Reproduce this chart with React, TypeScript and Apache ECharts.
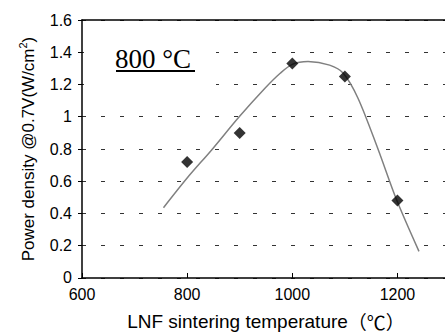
import React, { useEffect, useRef } from "react";
import * as echarts from "echarts";

// measured points (sintering temperature °C, power density W/cm2)
const temps = [800, 900, 1000, 1100, 1200];
const power = [0.72, 0.9, 1.33, 1.25, 0.48];

// trend curve
const curveTemps = [755, 800, 847, 899, 948, 977, 1000, 1030, 1071, 1097, 1125, 1163, 1198, 1241];
const curveValues = [0.436, 0.62, 0.796, 1.0, 1.177, 1.27, 1.325, 1.342, 1.32, 1.27, 1.115, 0.8, 0.488, 0.165];

const xTitle = "LNF sintering temperature";
const yTitle = "Power density @0.7V(W/cm";
const annotation = "800 °C";

export default function App() {
  const ref = useRef<HTMLDivElement>(null);
  useEffect(() => {
    if (!ref.current) return;
    const chart = echarts.init(ref.current, null, { renderer: "svg" });
    const sans = "'Liberation Sans', Arial, sans-serif";
    chart.setOption({
      animation: false,
      backgroundColor: "#ffffff",
      grid: { left: 82, top: 20, right: 5, bottom: 57, containLabel: false },
      xAxis: [
        {
          type: "value",
          min: 600,
          max: 1300,
          interval: 200,
          position: "bottom",
          axisLine: { show: true, lineStyle: { color: "#000", width: 1.5 } },
          axisTick: { show: true, inside: true, length: 5, lineStyle: { color: "#000", width: 1 } },
          axisLabel: {
            show: true,
            showMaxLabel: false,
            color: "#000",
            fontSize: 16,
            fontFamily: sans,
            margin: 9,
            formatter: (v: number) => String(v),
          },
          splitLine: { show: false },
          name: "{a|" + xTitle + "}{b|（℃）}",
          nameLocation: "middle",
          nameGap: 34,
          nameTextStyle: {
            rich: {
              a: { fontSize: 19, fontFamily: sans, color: "#000" },
              b: { fontSize: 19, fontFamily: "'Noto Sans CJK JP', sans-serif", color: "#000" },
            },
          },
        },
        {
          type: "value",
          min: 600,
          max: 1300,
          position: "top",
          axisLine: { show: true, lineStyle: { color: "#000", width: 1.5 } },
          axisTick: { show: false },
          axisLabel: { show: false },
          splitLine: { show: false },
        },
      ],
      yAxis: {
        type: "value",
        min: 0,
        max: 1.6,
        interval: 0.2,
        axisLine: { show: true, lineStyle: { color: "#000", width: 1.5 } },
        axisTick: { show: true, inside: false, length: 4, lineStyle: { color: "#000", width: 1 } },
        axisLabel: { color: "#000", fontSize: 16, fontFamily: sans, margin: 10 },
        splitLine: { show: true, lineStyle: { color: "#333", width: 1, type: [4, 15] } },
        name: "{a|" + yTitle + "}{s|2}{a|)}",
        nameLocation: "middle",
        nameGap: 45,
        nameTextStyle: {
          rich: {
            a: { fontSize: 17, fontFamily: sans, color: "#000", lineHeight: 20, verticalAlign: "bottom" },
            s: { fontSize: 11, fontFamily: sans, color: "#000", lineHeight: 20, verticalAlign: "top" },
          },
        },
      },
      series: [
        {
          type: "line",
          data: curveTemps.map((t, i) => [t, curveValues[i]]),
          smooth: 0.3,
          showSymbol: false,
          symbol: "none",
          lineStyle: { color: "#808080", width: 1.5 },
          z: 2,
        },
        {
          type: "scatter",
          data: temps.map((t, i) => [t, power[i]]),
          symbol: "diamond",
          symbolSize: 12,
          itemStyle: { color: "#000" },
          z: 3,
        },
      ],
      graphic: [
        { type: "rect", z: 100, shape: { x: 84, y: 38, width: 132, height: 58 }, style: { fill: "#fff" } },
        {
          type: "text",
          z: 101,
          x: 115,
          y: 59,
          style: {
            text: annotation,
            font: "27px 'Liberation Serif', 'Times New Roman', serif",
            fill: "#000",
            align: "left",
            verticalAlign: "middle",
          },
        },
        { type: "line", z: 101, shape: { x1: 116, y1: 71, x2: 195, y2: 71 }, style: { stroke: "#000", lineWidth: 2 } },
      ],
    });
    return () => chart.dispose();
  }, []);
  return (
    <div style={{ position: "fixed", left: 0, top: 0, width: 445, height: 336, overflow: "hidden", background: "#fff" }}>
      <div ref={ref} style={{ width: 455, height: 336 }} />
    </div>
  );
}
